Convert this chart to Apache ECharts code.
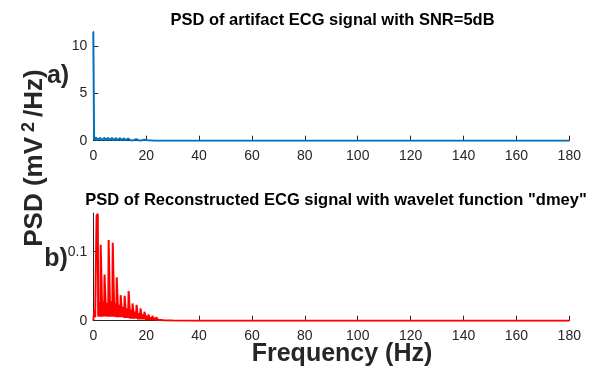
<!DOCTYPE html>
<html>
<head>
<meta charset="utf-8">
<script src="https://cdn.jsdelivr.net/npm/echarts@6/dist/echarts.min.js"></script>
<style>html,body{margin:0;padding:0;background:#fff}#c{width:596px;height:370px}</style>
</head>
<body>
<div id="c"></div>
<script>
// ---- data ----
const xTicks = [0, 20, 40, 60, 80, 100, 120, 140, 160, 180];
const yTicksA = [0, 5, 10];
const yTicksB = [0, 0.1];

// a) PSD of artifact ECG signal (Hz, mV^2/Hz)
const artifactFreq = [0, 0.3, 0.7, 1.1, 1.4, 1.9, 2.6, 2.9, 3.5, 4.3, 4.6, 5.1, 5.7, 6.0, 6.5, 7.2, 7.5, 8.0, 8.7, 9.0, 9.5, 10.2, 10.5, 11.0, 11.7, 12.0, 12.5, 13.2, 13.5, 14.0, 14.7, 15.0, 15.5, 16.3, 16.6, 17.1, 17.8, 18.1, 18.6, 19.3, 19.6, 20.5, 21.0, 22.0, 23.0, 25.0, 30.0, 180];
const artifactPSD  = [11.5, 0.05, 0.15, 0.35, 0.05, 0.12, 0.32, 0.05, 0.12, 0.30, 0.04, 0.10, 0.30, 0.04, 0.10, 0.30, 0.04, 0.09, 0.28, 0.04, 0.08, 0.27, 0.03, 0.07, 0.25, 0.03, 0.06, 0.23, 0.03, 0.05, 0.20, 0.02, 0.04, 0.17, 0.02, 0.03, 0.13, 0.02, 0.02, 0.09, 0.01, 0.04, 0.005, 0.02, 0.003, 0.005, 0.001, 0.0005];

// b) PSD of reconstructed ECG signal, wavelet "dmey"
const reconFreq = [
  0.0, 0.4, 0.7,
  1.1, 1.25, 1.7, 1.85, 2.25,
  2.65, 2.8, 3.25, 3.4, 3.8,
  4.1, 4.25, 4.7, 4.85, 5.25,
  5.65, 5.8, 6.25, 6.4, 6.8,
  7.2, 7.35, 7.8, 7.95, 8.35,
  8.7, 8.85, 9.3, 9.45, 9.85,
  10.2, 10.35, 10.8, 10.95, 11.35,
  11.7, 11.85, 12.3, 12.45, 12.85,
  13.2, 13.35, 13.8, 13.95, 14.35,
  14.7, 14.85, 15.3, 15.45, 15.85,
  16.2, 16.35, 16.8, 16.95, 17.35,
  17.7, 17.85, 18.3, 18.45, 18.85,
  19.2, 19.35, 19.8, 19.95, 20.35,
  20.7, 20.85, 21.3, 21.45, 21.85,
  22.2, 22.35, 22.8, 22.95, 23.35,
  23.7, 23.85, 24.3, 24.45, 24.85,
  25.3, 25.8, 26.5, 30.0, 40.0, 180];
const reconPSD = [
  0.000, 0.015, 0.005,
  0.006, 0.152, 0.155, 0.006, 0.027,
  0.006, 0.110, 0.112, 0.006, 0.028,
  0.006, 0.067, 0.068, 0.006, 0.026,
  0.006, 0.117, 0.115, 0.006, 0.028,
  0.006, 0.113, 0.111, 0.006, 0.025,
  0.005, 0.063, 0.061, 0.005, 0.023,
  0.005, 0.037, 0.036, 0.005, 0.020,
  0.004, 0.036, 0.035, 0.004, 0.018,
  0.004, 0.043, 0.041, 0.003, 0.016,
  0.003, 0.025, 0.024, 0.003, 0.013,
  0.003, 0.023, 0.022, 0.002, 0.011,
  0.002, 0.018, 0.017, 0.002, 0.009,
  0.002, 0.013, 0.012, 0.001, 0.007,
  0.001, 0.009, 0.008, 0.001, 0.005,
  0.001, 0.007, 0.006, 0.001, 0.004,
  0.001, 0.005, 0.004, 0.001, 0.003,
  0.001, 0.002, 0.0005, 0.0002, 0.0001, 0.0001];

const artifactData = artifactFreq.map((f, i) => [f, artifactPSD[i]]);
const reconData = reconFreq.map((f, i) => [f, reconPSD[i]]);

const FONT = "'Liberation Sans', Arial, Helvetica, sans-serif";
const TXT = '#262626';

const chart = echarts.init(document.getElementById('c'), null, {renderer: 'canvas'});

function xAxisCfg(idx) {
  return {
    type: 'value', gridIndex: idx, min: 0, max: 180, interval: 20,
    axisLine: {show: true, onZero: false, lineStyle: {color: TXT, width: 1}},
    axisTick: {show: true, inside: true, length: 5, lineStyle: {color: TXT}},
    axisLabel: {show: true, margin: 8, fontSize: 14, color: TXT, fontFamily: FONT,
      customValues: xTicks},
    splitLine: {show: false}
  };
}
function yAxisCfg(idx, max, ticks) {
  return {
    type: 'value', gridIndex: idx, min: 0, max: max,
    axisLine: {show: true, lineStyle: {color: TXT, width: 1}},
    axisTick: {show: true, inside: true, length: 5, lineStyle: {color: TXT}, customValues: ticks},
    axisLabel: {show: true, margin: 6, fontSize: 14, color: TXT, fontFamily: FONT, customValues: ticks,
      formatter: v => String(v)},
    splitLine: {show: false}
  };
}

chart.setOption({
  animation: false,
  backgroundColor: '#fff',
  grid: [
    {left: 93.3, width: 476, top: 31.7, height: 109},
    {left: 93.3, width: 476, top: 213, height: 107.7}
  ],
  xAxis: [xAxisCfg(0), xAxisCfg(1)],
  yAxis: [yAxisCfg(0, 11.5, yTicksA), yAxisCfg(1, 0.156, yTicksB)],
  series: [
    {type: 'line', xAxisIndex: 0, yAxisIndex: 0, data: artifactData, showSymbol: false,
      sampling: false, lineStyle: {color: '#0072BD', width: 2}, itemStyle: {color: '#0072BD'}},
    {type: 'line', xAxisIndex: 1, yAxisIndex: 1, data: reconData, showSymbol: false,
      sampling: false, lineStyle: {color: '#FF0000', width: 2}, itemStyle: {color: '#FF0000'}}
  ],
  graphic: [
    {type: 'text', x: 332.5, y: 20, style: {text: 'PSD of artifact ECG signal with SNR=5dB',
      font: 'bold 16.5px ' + FONT, fill: '#000', align: 'center', verticalAlign: 'middle'}},
    {type: 'text', x: 336, y: 200, style: {text: 'PSD of Reconstructed ECG signal with wavelet function "dmey"',
      font: 'bold 16.5px ' + FONT, fill: '#000', align: 'center', verticalAlign: 'middle'}},
    {type: 'text', x: 58, y: 76, style: {text: 'a)', font: 'bold 25px ' + FONT, fill: TXT,
      align: 'center', verticalAlign: 'middle'}},
    {type: 'text', x: 56, y: 259, style: {text: 'b)', font: 'bold 25px ' + FONT, fill: TXT,
      align: 'center', verticalAlign: 'middle'}},
    {type: 'text', x: 342, y: 354, style: {text: 'Frequency (Hz)', font: 'bold 25px ' + FONT, fill: TXT,
      align: 'center', verticalAlign: 'middle'}},
    {type: 'text', x: 34, y: 158, rotation: Math.PI / 2,
      style: {
        text: '{m|PSD (mV}{s|2}{m|/Hz)}',
        align: 'center', verticalAlign: 'middle',
        rich: {
          m: {font: 'bold 26px ' + FONT, fill: TXT, color: TXT, verticalAlign: 'bottom'},
          s: {font: 'bold 18px ' + FONT, fill: TXT, color: TXT, verticalAlign: 'bottom', padding: [0, 5, 10, 5]}
        }
      }}
  ]
});
</script>
</body>
</html>
